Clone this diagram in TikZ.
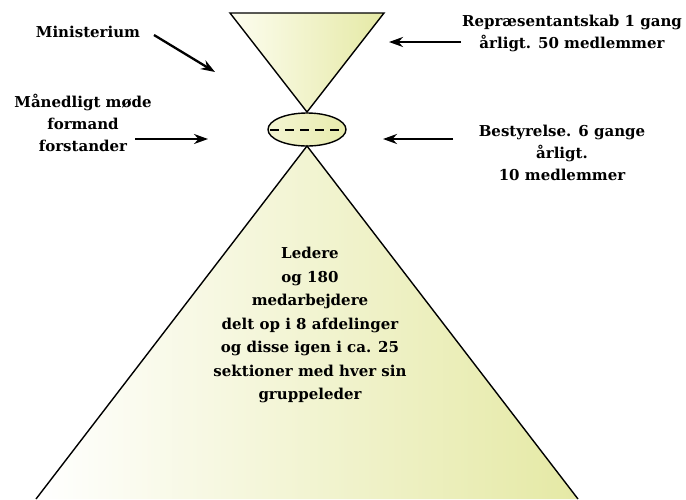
\documentclass[tikz,border=0pt]{standalone}
\usepackage{fontspec}
\setmainfont{DejaVu Serif}
\usetikzlibrary{arrows.meta}

\definecolor{pyrlight}{RGB}{253,253,240}
\definecolor{pyrdark}{RGB}{229,233,165}
\tikzset{
  label/.style={font=\bfseries\fontsize{15}{22}\selectfont, align=center, inner sep=0pt},
  pointer/.style={line width=2.3pt, -{Stealth[length=14pt,width=10pt]}},
}

\begin{document}
\begin{tikzpicture}[x=1pt,y=-1pt]
\useasboundingbox (0,0) rectangle (686,499);

% TOP TRIANGLE ================================================================
  \draw[line width=1.4pt, left color=pyrlight, right color=pyrdark] (230,13) -- (384,13) -- (307,112) -- cycle; % Representantskab

% ELLIPSE =====================================================================
  \draw[line width=1.4pt, left color=pyrlight!60!pyrdark, right color=pyrdark!90!pyrlight] (307,129.5) ellipse (39 and 16.5); % Bestyrelse
  \draw[line width=2.8pt, dash pattern=on 9pt off 6pt] (270,130) to (345,130);

% BOTTOM TRIANGLE =============================================================
  \shade[left color=white, right color=pyrdark] (307,146) -- (578,499) -- (36,499) -- cycle;
  \draw[line width=1.4pt] (36,499) to (307,146) to (578,499);

% LABELS ======================================================================
  \node[label] (minist) at (88,32) {Ministerium};
  \node[label] (moede) at (83,123) {Månedligt møde\\formand\\forstander};
  \node[label] (repr) at (572,33) {Repræsentantskab 1 gang\\årligt. 50 medlemmer};
  \node[label] (best) at (562,153) {Bestyrelse. 6 gange\\årligt.\\10 medlemmer};
  \node[label, font=\bfseries\fontsize{15}{23.5}\selectfont] (ledere) at (310,325) {Ledere\\og 180\\medarbejdere\\delt op i 8 afdelinger\\og disse igen i ca. 25\\sektioner med hver sin\\gruppeleder};

% ARROWS ======================================================================
  \coordinate (ministstart) at (154,35);
  \coordinate (ministend) at (215,72);
  \coordinate (moedestart) at (135,139);
  \coordinate (moedeend) at (208,139);
  \coordinate (reprstart) at (461,42);
  \coordinate (reprend) at (389,42);
  \coordinate (beststart) at (453,139);
  \coordinate (bestend) at (383,139);

  \draw[pointer] (ministstart) to (ministend);
  \draw[pointer] (moedestart) to (moedeend);
  \draw[pointer] (reprstart) to (reprend);
  \draw[pointer] (beststart) to (bestend);

\end{tikzpicture}
\end{document}
